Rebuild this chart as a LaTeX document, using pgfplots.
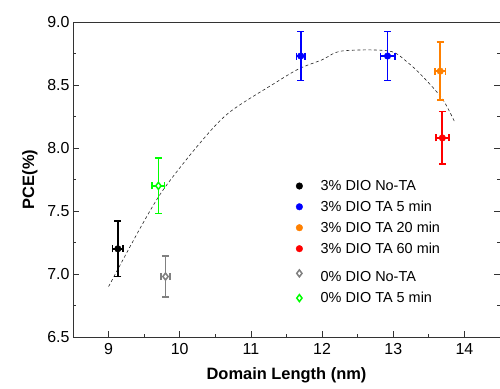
\documentclass[border=0pt]{standalone}
\usepackage{fontspec}
\setmainfont{Liberation Sans}
\usepackage{pgfplots}
\pgfplotsset{compat=1.18}
\usepackage{pgfplotstable}
\definecolor{myorange}{RGB}{255,128,0}
\definecolor{mygreen}{RGB}{0,255,0}
\definecolor{myblue}{RGB}{0,0,255}
\definecolor{myred}{RGB}{255,0,0}
\definecolor{mygray}{RGB}{128,128,128}

\pgfplotstableread{
x y ex ey
9.13 7.20 0.075 0.22
}\blackdata
\pgfplotstableread{
x y ex ey
11.70 8.73 0.06 0.195
12.92 8.73 0.10 0.195
}\bluedata
\pgfplotstableread{
x y ex ey
13.66 8.61 0.075 0.23
}\orangedata
\pgfplotstableread{
x y ex ey
13.69 8.08 0.09 0.21
}\reddata
\pgfplotstableread{
x y ex ey
9.80 6.98 0.06 0.165
}\graydata
\pgfplotstableread{
x y ex ey
9.70 7.70 0.085 0.22
}\greendata
\pgfplotstableread{
x y
9.00 6.90
9.45 7.37
9.77 7.67
10.27 8.03
10.69 8.28
11.35 8.52
11.68 8.63
12.00 8.70
12.28 8.77
12.94 8.77
13.20 8.68
13.41 8.57
13.69 8.39
13.86 8.21
}\curvedata

\begin{document}
\begin{tikzpicture}
\begin{axis}[
  scale only axis, width=427bp, height=315bp,
  xmin=8.5, xmax=14.5, ymin=6.5, ymax=9.0,
  xtick={9,10,11,12,13,14}, ytick={6.5,7.0,7.5,8.0,8.5,9.0},
  minor x tick num=1, minor y tick num=1,
  tick align=inside, xtick pos=bottom, ytick pos=both, yticklabel pos=left,
  major tick length=6bp, minor tick length=3bp,
  axis line style={line width=0.9bp, black!80},
  tick style={line width=0.8bp, black!80},
  /pgf/number format/assume math mode=true,
  yticklabel style={/pgf/number format/.cd, fixed, fixed zerofill, precision=1},
  ticklabel style={font=\fontsize{16}{18}\selectfont},
  xticklabel style={yshift=-3bp},
  xlabel={\bfseries Domain Length (nm)},
  ylabel={\bfseries PCE(\%)},
  label style={font=\fontsize{16.5}{19}\selectfont},
  xlabel style={yshift=-6bp},
  ylabel style={yshift=3bp},
  legend cell align=left,
  legend style={draw=none, fill=none, at={(0.515,0.511)}, anchor=north west,
    font=\fontsize{14.5}{17}\selectfont, row sep=5bp, column sep=16bp},
  eb/.style={only marks,
    /pgfplots/error bars/x dir=both, /pgfplots/error bars/x explicit,
    /pgfplots/error bars/y dir=both, /pgfplots/error bars/y explicit,
    /pgfplots/error bars/error bar style={line width=1.8bp, solid},
    /pgfplots/error bars/error mark options={rotate=90, line width=1.8bp, mark size=3.5bp}},
]
\addplot[forget plot, black!85, line width=0.6bp, dash pattern=on 3bp off 2.5bp, smooth] table[x=x,y=y] {\curvedata};
\addplot[eb, black, mark=*, mark size=3.3bp] table[x=x,y=y,x error=ex,y error=ey] {\blackdata};
\addlegendentry{3\% DIO No-TA}
\addplot[eb, myblue, mark=*, mark size=3.3bp] table[x=x,y=y,x error=ex,y error=ey] {\bluedata};
\addlegendentry{3\% DIO TA 5 min}
\addplot[eb, myorange, mark=*, mark size=3.3bp] table[x=x,y=y,x error=ex,y error=ey] {\orangedata};
\addlegendentry{3\% DIO TA 20 min}
\addplot[eb, myred, mark=*, mark size=3.3bp] table[x=x,y=y,x error=ex,y error=ey] {\reddata};
\addlegendentry{3\% DIO TA 60 min}
\addplot[eb, mygray, mark=diamond*, mark size=3.5bp, mark options={fill=white, draw=mygray, line width=1.5bp}] table[x=x,y=y,x error=ex,y error=ey] {\graydata};
\addlegendentry{\rule{0pt}{18bp}0\% DIO No-TA}
\addplot[eb, mygreen, mark=diamond*, mark size=3.5bp, mark options={fill=white, draw=mygreen, line width=1.5bp}] table[x=x,y=y,x error=ex,y error=ey] {\greendata};
\addlegendentry{0\% DIO TA 5 min}
\end{axis}
\pgfresetboundingbox
\useasboundingbox ([xshift=-73bp,yshift=22bp]current axis.north west) rectangle ([yshift=-51bp]current axis.south east);
\end{tikzpicture}
\end{document}
